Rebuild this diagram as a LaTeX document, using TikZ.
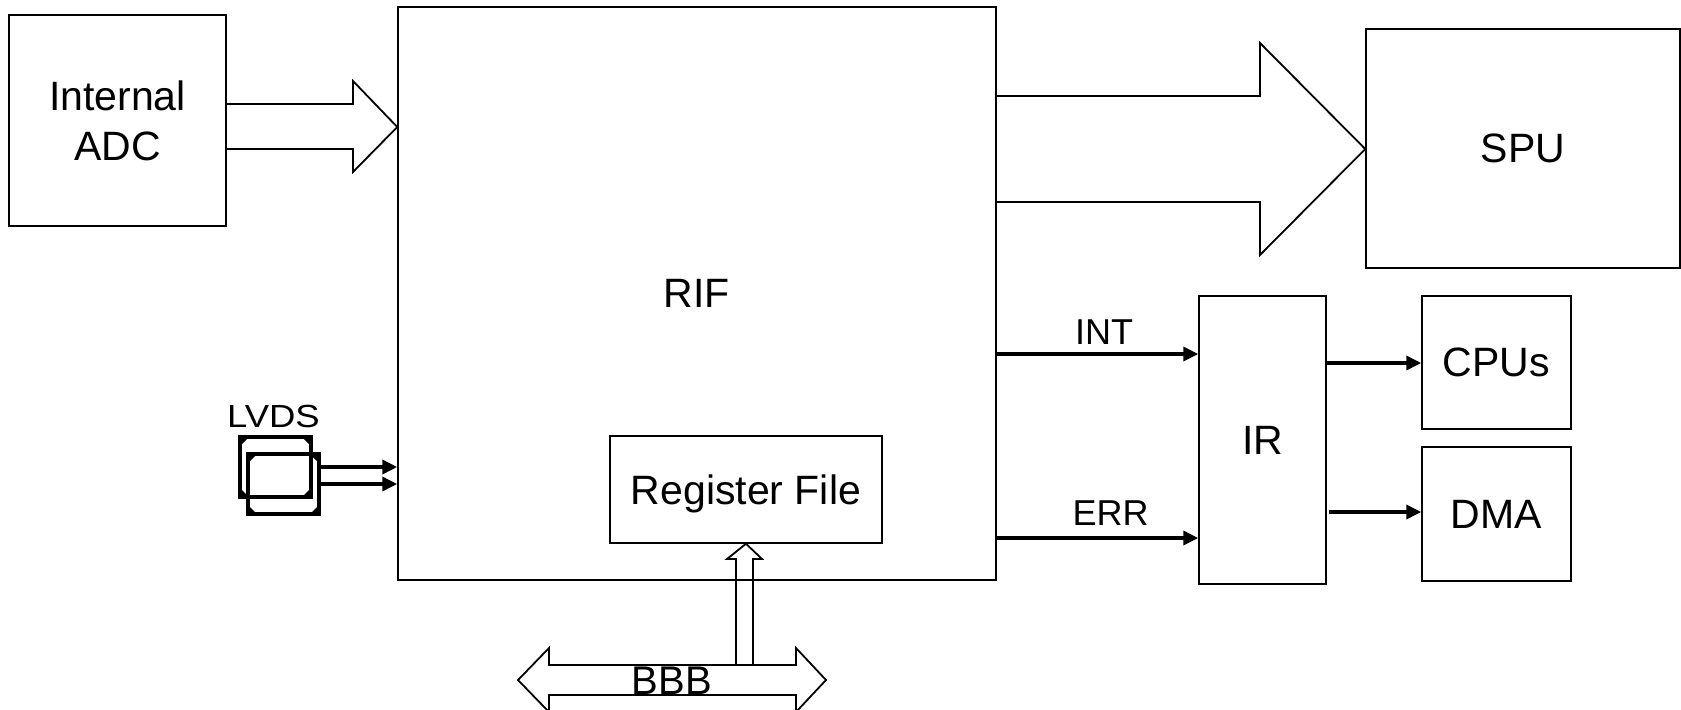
\documentclass[tikz,border=0pt]{standalone}
\usepackage{fontspec}
\setmainfont{Liberation Sans}
\usetikzlibrary{arrows.meta}
\begin{document}
\begin{tikzpicture}[x=0.5pt,y=-0.5pt,
  box/.style={draw,line width=0.75pt,inner sep=0pt,text depth=0pt,font=\fontsize{20.5}{25}\selectfont,align=center},
  blk/.style={draw,line width=0.9pt,line join=miter},
  sig/.style={line width=1.8pt,-{Triangle[length=7.5pt,width=7pt]}},
  lbl/.style={font=\fontsize{18}{22}\selectfont,inner sep=0pt},
  lvbox/.style={draw,line width=2pt,outer sep=0pt,inner sep=0pt,minimum width=35.5pt,minimum height=30pt}]
\useasboundingbox (0,0) rectangle (1681,709);

% boxes
\node[box,minimum width=108.5pt,minimum height=105.5pt] (adc) at (117.5,120.5) {Internal\\ADC};
\node[box,minimum width=299pt,minimum height=286.5pt] (rif) at (697,293.5) {RIF};
\node[box,minimum width=157pt,minimum height=119.5pt] (spu) at (1523,148.5) {SPU};
\node[box,minimum width=63.5pt,minimum height=144pt] (ir) at (1262.5,440) {IR};
\node[box,minimum width=74.5pt,minimum height=66.5pt] (cpu) at (1496.5,362.5) {CPUs};
\node[box,minimum width=74.5pt,minimum height=67pt] (dma) at (1496.5,514) {DMA};
\node[box,minimum width=136pt,minimum height=53.5pt] (reg) at (746,489.5) {Register File};

% LVDS
\node[lbl,font=\fontsize{16}{20}\selectfont] (lvdslbl) at (273.5,416) {\scalebox{1.14}[1]{LVDS}};
\node[lvbox] (lvdsA) at (275.5,467) {};
\node[lvbox] (lvdsB) at (283.5,484) {};
\foreach \n in {lvdsA,lvdsB}{
  \fill ([shift={(2,2)}]\n.north west) -- ++(5,0) -- ++(-5,5) -- cycle;
  \fill ([shift={(-2,2)}]\n.north east) -- ++(-5,0) -- ++(5,5) -- cycle;
  \fill ([shift={(2,-2)}]\n.south west) -- ++(5,0) -- ++(-5,-5) -- cycle;
  \fill ([shift={(-2,-2)}]\n.south east) -- ++(-5,0) -- ++(5,-5) -- cycle;
}
\draw[sig] ([xshift=1pt]lvdsB.east |- 0,467) -- (rif.west |- 0,467);
\draw[sig] ([xshift=1pt]lvdsB.east |- 0,484) -- (rif.west |- 0,484);

% block arrows
\draw[blk] (adc.east |- 0,104) -- (353,104) -- (353,81) -- (rif.west |- 0,127)
  -- (353,172) -- (353,149) -- (adc.east |- 0,149);
\draw[blk] (rif.east |- 0,96) -- (1260,96) -- (1260,43) -- (spu.west |- 0,149)
  -- (1260,255) -- (1260,202) -- (rif.east |- 0,202);

% signal arrows
\draw[sig] (rif.east |- 0,354) -- (ir.west |- 0,354);
\draw[sig] (rif.east |- 0,538) -- (ir.west |- 0,538);
\node[lbl] (intlbl) at (1104,332) {INT};
\node[lbl] (errlbl) at (1110.5,513) {ERR};
\draw[sig] (ir.east |- 0,363) -- (cpu.west |- 0,363);
\draw[sig] ([xshift=1pt]ir.east |- 0,512) -- (dma.west |- 0,512);

% bus
\draw[blk] (518,680) -- (549,648) -- (549,665) -- (796,665) -- (796,648) -- (826,680)
  -- (796,712) -- (796,695) -- (549,695) -- (549,712) -- cycle;
\draw[blk] (736,665) -- (736,559) -- (727,559) -- (reg.south) -- (762,559) -- (753,559) -- (753,665);
\node[lbl,font=\fontsize{20}{24}\selectfont] (bbb) at (672,680.5) {BBB};
\end{tikzpicture}
\end{document}
